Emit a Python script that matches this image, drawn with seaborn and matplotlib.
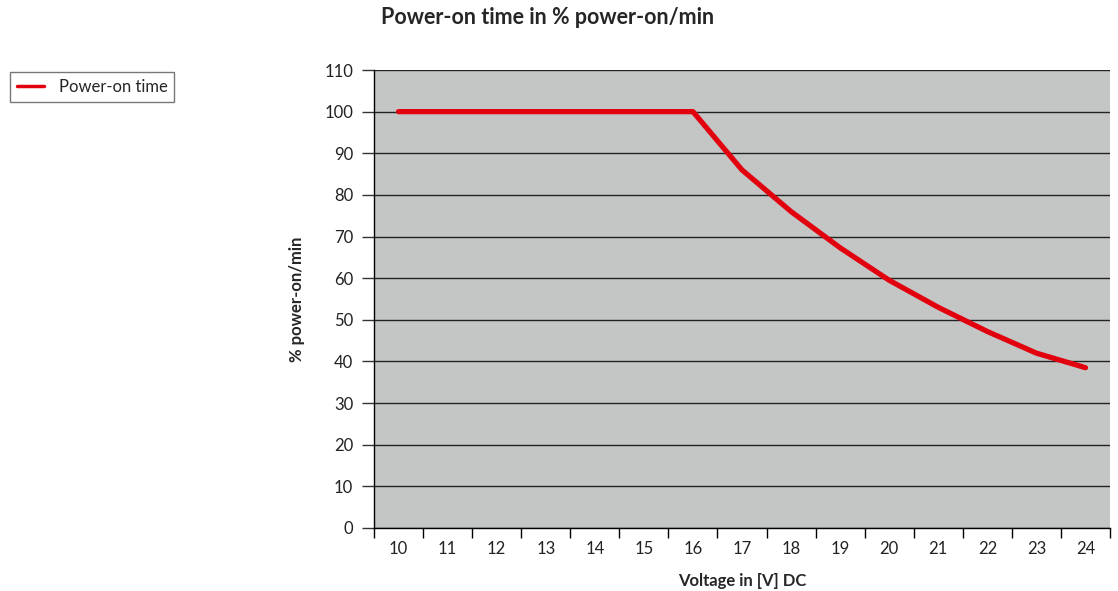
import numpy as np
import pandas as pd
import matplotlib
matplotlib.use("Agg")
import matplotlib.pyplot as plt
import seaborn as sns

# --- Data ---
voltage = [10, 11, 12, 13, 14, 15, 16, 17, 18, 19, 20, 21, 22, 23, 24]
power_on = [100, 100, 100, 100, 100, 100, 100, 86, 76, 67.3, 59.5, 53, 47.2, 42, 38.5]
y_ticks = list(range(0, 111, 10))

df = pd.DataFrame({"Voltage": voltage, "Power-on time": power_on})

sns.set_style("white")
plt.rcParams["font.family"] = ["Lato", "DejaVu Sans"]

fig = plt.figure(figsize=(11.18, 5.91), dpi=100)
ax = fig.add_axes([374 / 1118, 1 - 528 / 591, 736 / 1118, 458 / 591])
ax.set_facecolor("#c4c6c6")

sns.lineplot(data=df, x="Voltage", y="Power-on time", ax=ax, color="#e2000f",
             linewidth=3.8, label="Power-on time", zorder=3)

# category style axis: labels at centres, ticks on boundaries
ax.set_xlim(voltage[0] - 0.5, voltage[-1] + 0.5)
ax.set_xticks(voltage)
ax.set_xticklabels([str(v) for v in voltage], fontsize=12, color="#222222")
ax.set_xticks(np.arange(voltage[0] - 0.5, voltage[-1] + 1, 1), minor=True)
ax.tick_params(axis="x", which="major", bottom=True, length=0, pad=9)
ax.tick_params(axis="x", which="minor", bottom=True, length=7, width=1,
               color="black", direction="out")

ax.set_ylim(0, 110)
ax.set_yticks(y_ticks)
ax.set_yticklabels([str(t) for t in y_ticks], fontsize=12, color="#222222")
ax.tick_params(axis="y", left=True, length=9, width=1, color="#333333",
               direction="out", pad=6)

ax.grid(axis="y", color="#222222", linewidth=1)
ax.set_axisbelow(True)
for s in ["top", "right"]:
    ax.spines[s].set_visible(False)
for s in ["left", "bottom"]:
    ax.spines[s].set_color("black")
    ax.spines[s].set_linewidth(1)

ax.set_xlabel("Voltage in [V] DC", fontsize=12, fontweight="bold", labelpad=12)
ax.set_ylabel("% power-on/min", fontsize=12, fontweight="bold", labelpad=14)

fig.text(548 / 1118, 1 - 18 / 591, "Power-on time in % power-on/min",
         ha="center", va="center", fontsize=15.5, fontweight="bold")

ax.get_legend().remove()
handles, labels = ax.get_legend_handles_labels()
leg = fig.legend(handles, labels, loc="upper left", bbox_to_anchor=(2 / 1118, 1 - 64 / 591),
                 frameon=True, fancybox=False, fontsize=12, handlelength=1.6,
                 handletextpad=0.9, borderpad=0.4, edgecolor="#555555")
leg.get_frame().set_linewidth(1)
for line in leg.get_lines():
    line.set_linewidth(2.5)

fig.savefig("out.png", dpi=100)
